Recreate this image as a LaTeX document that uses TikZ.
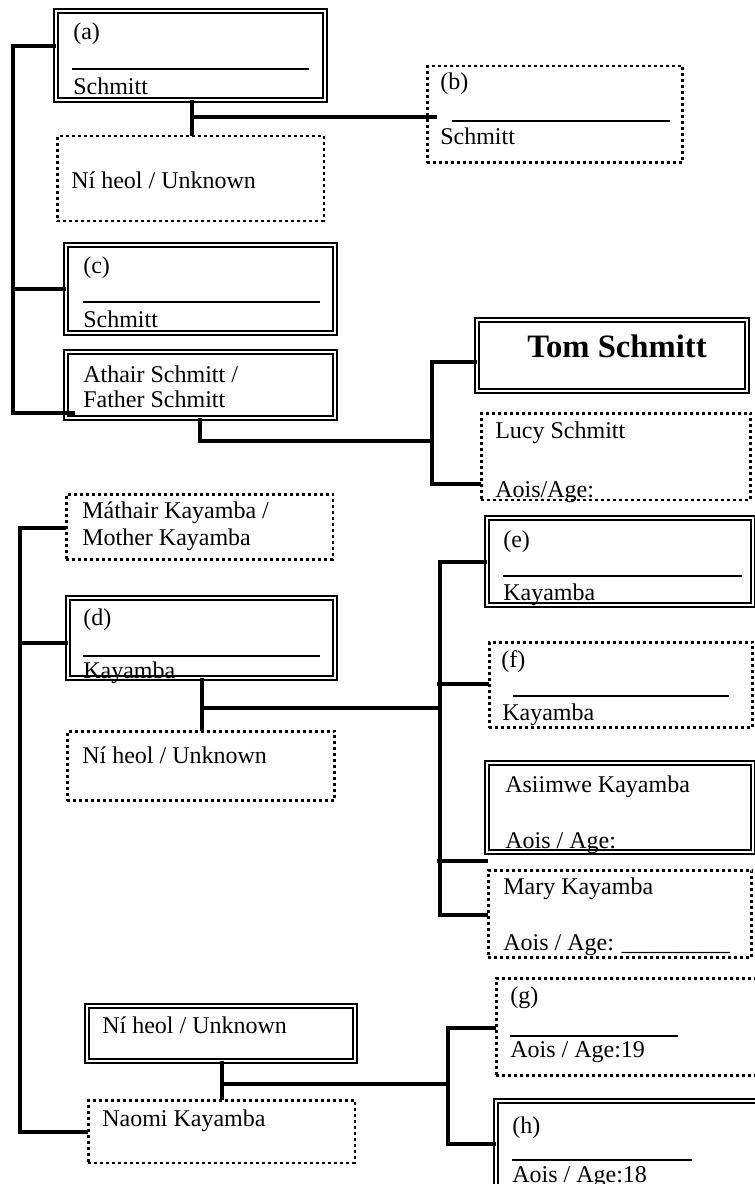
\documentclass[tikz,border=0pt]{standalone}
\usepackage{fontspec}
\setmainfont{Liberation Serif}
\begin{document}
\begin{tikzpicture}[x=0.75pt,y=-0.75pt,
  dbl/.style={draw, double, line width=1.35pt, double distance=1.5pt, inner sep=0pt, outer sep=0pt, rectangle},
  dotb/.style={draw, line width=1.9pt, dash pattern=on 2.25pt off 2.25pt, inner sep=0pt, outer sep=0pt, rectangle},
  conn/.style={line width=2.5pt},
  rulel/.style={line width=1.1pt},
  thinrule/.style={line width=0.8pt},
  txt/.style={anchor=base west, inner sep=0pt, font=\fontsize{18pt}{20pt}\selectfont},
  bigtxt/.style={anchor=base west, inner sep=0pt, font=\fontsize{24.5pt}{28pt}\selectfont\bfseries}]
\useasboundingbox (0,0) rectangle (755,1184);
\clip (0,0) rectangle (755,1184);

% ---------- boxes ----------
\node[dbl, minimum width=202.05pt, minimum height=67.05pt] (a) at (190.5,55.5) {};
\node[dotb, minimum width=199.9pt, minimum height=63.4pt] (unk1) at (190.5,178.5) {};
\node[dotb, minimum width=191.6pt, minimum height=72.4pt] (b) at (555,114.5) {};
\node[dbl, minimum width=202.05pt, minimum height=66.3pt] (c) at (200.5,289) {};
\node[dbl, minimum width=202.05pt, minimum height=49.8pt] (father) at (200.5,385) {};
\node[dbl, minimum width=202.8pt, minimum height=53.55pt] (tom) at (612,355.5) {};
\node[dotb, minimum width=202.1pt, minimum height=64.9pt] (lucy) at (616,456.5) {};
\node[dotb, minimum width=199.9pt, minimum height=49.1pt] (mathair) at (199.5,527) {};
\node[dbl, minimum width=200.55pt, minimum height=60.3pt] (d) at (201.5,638) {};
\node[dotb, minimum width=200.6pt, minimum height=52.1pt] (unk2) at (201,766) {};
\node[dbl, minimum width=199.8pt, minimum height=65.55pt] (e) at (620,561.5) {};
\node[dotb, minimum width=197.6pt, minimum height=64.1pt] (f) at (621,685) {};
\node[dbl, minimum width=199.8pt, minimum height=67.05pt] (asiimwe) at (620,807.5) {};
\node[dotb, minimum width=197.6pt, minimum height=65.6pt] (mary) at (620,914) {};
\node[dotb, minimum width=198.4pt, minimum height=73.1pt] (g) at (628.5,1027) {};
\node[dbl, minimum width=199.8pt, minimum height=64.8pt] (h) at (629,1144) {};
\node[dbl, minimum width=201.3pt, minimum height=41.55pt] (unk3) at (221,1033.5) {};
\node[dotb, minimum width=199.9pt, minimum height=46.9pt] (naomi) at (221.5,1131.5) {};

% ---------- connector coordinates ----------
\coordinate (L1t) at (13,46);
\coordinate (L1b) at (13,413);
\coordinate (fin) at (75,413);
\coordinate (j1) at (192,117);
\coordinate (bin) at (437,117);
\coordinate (j2) at (200,441);
\coordinate (B2t) at (432,362);
\coordinate (B2b) at (432,484);
\coordinate (L2t) at (20,528);
\coordinate (L2m) at (20,643);
\coordinate (L2b) at (20,1132);
\coordinate (j3) at (202,708);
\coordinate (B3t) at (440,562);
\coordinate (B3b) at (440,915);
\coordinate (fL) at (437,684);
\coordinate (aL) at (437,861);
\coordinate (j4) at (222,1084);
\coordinate (B4t) at (448,1028);
\coordinate (B4b) at (448,1144);

% ---------- connectors ----------
\draw[conn] (a.west |- L1t) -- (L1t) -- (L1b) -- (fin);
\draw[conn] (L1t |- c.west) -- (c.west);
\draw[conn] (a.south -| j1) -- (unk1.north -| j1);
\draw[conn] (j1) -- (bin);
\draw[conn] (father.south -| j2) -- (j2) -- (B2t |- j2);
\draw[conn] (tom.west |- B2t) -- (B2t) -- (B2b) -- (lucy.west |- B2b);
\draw[conn] (mathair.west |- L2t) -- (L2t) -- (L2b) -- (naomi.west |- L2b);
\draw[conn] (L2m) -- (d.west |- L2m);
\draw[conn] (d.south -| j3) -- (unk2.north -| j3);
\draw[conn] (j3) -- (B3t |- j3);
\draw[conn] (e.west |- B3t) -- (B3t) -- (B3b) -- (mary.west |- B3b);
\draw[conn] (fL) -- (f.west |- fL);
\draw[conn] (aL) -- (mary.west |- aL);
\draw[conn] (unk3.south -| j4) -- (naomi.north -| j4);
\draw[conn] (j4) -- (B4t |- j4);
\draw[conn] (g.west |- B4t) -- (B4t) -- (B4b) -- (h.west |- B4b);

% ---------- texts ----------
\node[txt] (ta1) at (73,40) {(a)};
\draw[rulel] (72,69) -- (309,69);
\node[txt] (ta2) at (73,95) {Schmitt};
\node[txt] (tu1) at (71,188) {Ní heol / Unknown};
\node[txt] (tb1) at (440,90) {(b)};
\draw[rulel] (452,121) -- (670,121);
\node[txt] (tb2) at (440,145) {Schmitt};
\node[txt] (tc1) at (83,273) {(c)};
\draw[rulel] (83,302) -- (320,302);
\node[txt] (tc2) at (83,327) {Schmitt};
\node[txt] (tf1) at (83,382) {Athair Schmitt /};
\node[txt] (tf2) at (83,407) {Father Schmitt};
\node[bigtxt] (tt) at (527,357) {Tom Schmitt};
\node[txt] (tl1) at (495,438) {Lucy Schmitt};
\node[txt] (tl2) at (495,497) {Aois/Age:};
\node[txt] (tm1) at (82,518) {Máthair Kayamba /};
\node[txt] (tm2) at (82,545) {Mother Kayamba};
\node[txt] (td1) at (83,625) {(d)};
\draw[rulel] (83,656) -- (320,656);
\node[txt] (td2) at (83,678) {Kayamba};
\node[txt] (tu2) at (82,763) {Ní heol / Unknown};
\node[txt] (te1) at (503,547) {(e)};
\draw[rulel] (503,576) -- (742,576);
\node[txt] (te2) at (503,600) {Kayamba};
\node[txt] (tff1) at (501,667) {(f)};
\draw[rulel] (513,696) -- (729,696);
\node[txt] (tff2) at (502,720) {Kayamba};
\node[txt] (ts1) at (505,792) {Asiimwe Kayamba};
\node[txt] (ts2) at (505,848) {Aois / Age:};
\node[txt] (tr1) at (503,894) {Mary Kayamba};
\node[txt] (tr2) at (503,950) {Aois / Age: \_\_\_\_\_\_\_\_\_};
\node[txt] (tg1) at (510,1003) {(g)};
\draw[thinrule] (510,1036) -- (678,1036);
\node[txt] (tg2) at (510,1057) {Aois / Age:19};
\node[txt] (th1) at (512,1133) {(h)};
\draw[thinrule] (512,1160) -- (692,1160);
\node[txt] (th2) at (512,1182) {Aois / Age:18};
\node[txt] (tu3) at (102,1033) {Ní heol / Unknown};
\node[txt] (tn) at (102,1126) {Naomi Kayamba};
\end{tikzpicture}
\end{document}
